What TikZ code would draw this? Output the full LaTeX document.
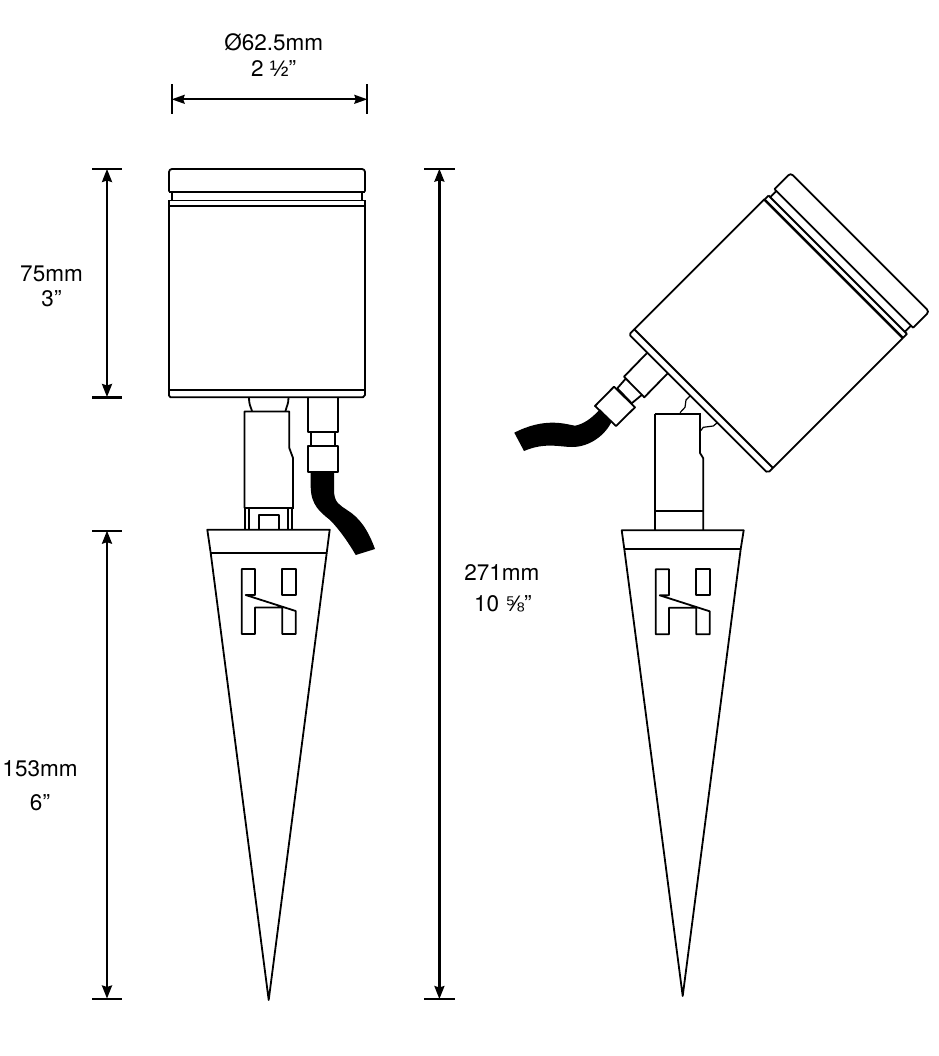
\documentclass[tikz,border=0pt]{standalone}
\usepackage{fontspec}
\setmainfont{TeX Gyre Heros}
\newfontfamily\fracfont{Liberation Sans}
\usetikzlibrary{arrows.meta}
\tikzset{
  part/.style={draw=black,line width=1.8pt,line join=round},
  thick part/.style={draw=black,line width=2.4pt},
  thinpart/.style={draw=black,line width=1.2pt},
  dimline/.style={draw=black,line width=2.2pt,{Stealth[length=13pt,width=10pt,inset=1.5pt]}-{Stealth[length=13pt,width=10pt,inset=1.5pt]}},
  dimlineh/.style={draw=black,line width=1.8pt,{Stealth[length=13pt,width=9pt,inset=1.5pt]}-{Stealth[length=13pt,width=9pt,inset=1.5pt]}},
  tick/.style={draw=black,line width=2pt},
  dimtext/.style={anchor=base,font=\fontsize{22.5}{24}\selectfont,inner sep=0pt,text=black}
}
\newcommand{\lampHead}{%
  \draw[part,rounded corners=3pt] (0,-198.3) -- (0,-221) -- (196,-221) -- (196,-198.3);
  \draw[part] (0,-198.3) -- (196,-198.3);
  \draw[part] (2.7,-198.3) -- (2.7,-189.5) (193,-198.3) -- (193,-189.5);
  \draw[part] (0.3,-189.5) -- (196,-189.5);
  \draw[part] (0.3,-189.5) -- (0.3,-184) (196,-189.5) -- (196,-184);
  \draw[thick part] (0,-183.7) -- (196,-183.7);
  \draw[part] (0,-184) -- (0,0) (196,-184) -- (196,0);
  \draw[part] (0,0) -- (196,0);
  \draw[part] (0,0) -- (0,5.5) -- (1.5,7.3) -- (194,7.3) -- (196,5) -- (196,0);
}
\newcommand{\spikeSlots}{%
  \draw[part] (241.7,569) -- (255,569) -- (255,595) -- (245.7,595) -- (295.7,611) -- (295.7,634)
    -- (282.3,634) -- (282.3,607.5) -- (255,607.5) -- (255,634) -- (241.7,634) -- cycle;
  \draw[part] (282.3,569) rectangle (295.7,595);
}
\begin{document}
\begin{tikzpicture}[x=1pt,y=-1pt]
\useasboundingbox (0,0) rectangle (938,1056);

% ---- left lamp head
\begin{scope}[shift={(169,390)}]
  \lampHead
\end{scope}
% left stem
\draw[part] (249,397.3) .. controls (249,404) and (250,405) .. (252,411);
\draw[part] (288.5,397.3) .. controls (288.5,404) and (287,405) .. (285.5,411);
\draw[part] (244.5,508) -- (244.5,411.5) -- (289.3,411.5) -- (289.3,448) -- (293,458) -- (293,508);
\draw[thick part] (244,508) -- (293.5,508);
\draw[part] (244.7,508) -- (244.7,530) (249.3,508) -- (249.3,530) (288,508) -- (288,530) (292,508) -- (292,530);
\draw[part] (258.7,530) -- (258.7,514.7) -- (278.7,514.7) -- (278.7,530);
% left cable connector
\draw[part] (307.7,397.3) -- (307.7,431.7) -- (338,431.7) -- (338,397.3);
\draw[part] (311,431.7) -- (311,446) (334.7,431.7) -- (334.7,446);
\draw[part] (307.7,446) rectangle (337.7,472.3);
\fill[black] (310.7,472.3) -- (310.7,487) .. controls (311,505) and (320,512) .. (330,520)
  .. controls (340,530) and (350,545) .. (355.7,555) -- (375,549)
  .. controls (368,530) and (360,518) .. (347,510) .. controls (340,505) and (334,503) .. (334,490)
  -- (334,472.3) -- cycle;
% left spike
\draw[part] (210.7,553) -- (207.3,529.7) -- (329.7,529.7) -- (326.7,553);
\draw[part] (210.7,553) -- (326.7,553);
\draw[part] (210.7,553) -- (268.7,1000) -- (326.7,553);
\spikeSlots

% ---- right lamp head
\begin{scope}[shift={(634.3,329.3)},rotate=-45]
  \lampHead
\end{scope}
% right connector
\draw[part] (646.7,353.3) -- (624,376.7) -- (644.3,397.3) -- (667.7,373.3);
\draw[part] (626,378.3) -- (617.3,388.3) -- (631.7,403.3) -- (641.7,395);
\draw[part] (614,386.7) -- (595,406) -- (616,426) -- (635,407.3) -- cycle;
\fill[black] (600,409.3) .. controls (590,420) and (583,424) .. (575,425.7)
  .. controls (565,424) and (545,417) .. (514.3,432.7) -- (524,451)
  .. controls (545,442) and (560,447) .. (572,447)
  .. controls (590,447) and (605,435) .. (611.7,421.7) -- cycle;
% right stem
\draw[thick part] (654.5,414) -- (700.5,414);
\draw[part] (655,414) -- (655,530);
\draw[part] (700,414) -- (700,453) -- (703.3,458.3) -- (703.3,530);
\draw[thick part] (655,511) -- (703.3,511);
\draw[thinpart] (680,412.7) -- (685,407.3) -- (686,400) -- (690,396);
\draw[thinpart] (700.7,430.7) -- (703.3,427.3) -- (713.3,426) -- (717.3,422.7);
% right spike
\draw[part] (624.3,549) -- (621.7,530.3) -- (743.7,530.3) -- (740.7,549);
\draw[part] (624.3,549) -- (740.7,549);
\draw[part] (624.3,549) -- (682.7,996) -- (740.7,549);
\begin{scope}[shift={(414,0.3)}]
  \spikeSlots
\end{scope}

% ---- dimensions
\coordinate (hl) at (171.7,99.3);
\coordinate (hr) at (367.3,99.3);
\draw[tick] (171.7,84.3) -- (171.7,114.3);
\draw[tick] (367.3,84.3) -- (367.3,114.3);
\draw[dimlineh] (hl) -- (hr);

\coordinate (va) at (107,169);
\coordinate (vb) at (107,397);
\coordinate (vc) at (107,530.7);
\coordinate (vd) at (107,998.5);
\draw[tick] (92,169) -- (122,169);
\draw[tick,line width=3pt] (92,397) -- (122,397);
\draw[tick] (92,530.7) -- (122,530.7);
\draw[tick] (92,998.5) -- (122,998.5);
\draw[dimline] (va) -- (vb);
\draw[dimline] (vc) -- (vd);

\coordinate (ta) at (439.4,168.7);
\coordinate (tb) at (439.4,999);
\draw[tick] (424,168.7) -- (454.7,168.7);
\draw[tick] (424,999) -- (454.7,999);
\draw[dimline] (ta) -- (tb);

\node[dimtext] (d1a) at (273.7,51) {Ø62.5mm};
\node[dimtext] (d1b) at (273.7,77) {2 {\fracfont ½}”};
\node[dimtext] (d2a) at (51.5,281) {75mm};
\node[dimtext] (d2b) at (51.5,306) {3”};
\node[dimtext] (d3a) at (501.8,580) {271mm};
\node[dimtext] (d3b) at (502.8,611.7) {10 {\fracfont ⅝}”};
\node[dimtext] (d4a) at (40,776) {153mm};
\node[dimtext] (d4b) at (40,810) {6”};
\end{tikzpicture}
\end{document}
